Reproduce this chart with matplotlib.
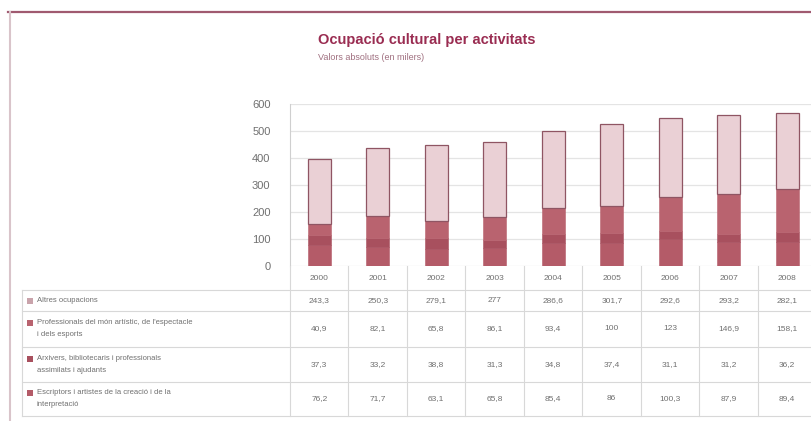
import matplotlib
matplotlib.use("Agg")
import matplotlib.pyplot as plt
from matplotlib.patches import Rectangle
from matplotlib.lines import Line2D

plt.rcParams["font.family"] = ["Liberation Sans Narrow", "Liberation Sans", "DejaVu Sans"]

# ----------------------------------------------------------------------
# Data (thousands of people)
# ----------------------------------------------------------------------
years = ["2000", "2001", "2002", "2003", "2004", "2005", "2006", "2007", "2008"]

altres = [243.3, 250.3, 279.1, 277.0, 286.6, 301.7, 292.6, 293.2, 282.1]
professionals = [40.9, 82.1, 65.8, 86.1, 93.4, 100.0, 123.0, 146.9, 158.1]
arxivers = [37.3, 33.2, 38.8, 31.3, 34.8, 37.4, 31.1, 31.2, 36.2]
escriptors = [76.2, 71.7, 63.1, 65.8, 85.4, 86.0, 100.3, 87.9, 89.4]

row_labels = [
    ["Altres ocupacions"],
    ["Professionals del món artístic, de l'espectacle", "i dels esports"],
    ["Arxivers, bibliotecaris i professionals", "assimilats i ajudants"],
    ["Escriptors i artistes de la creació i de la", "interpretació"],
]
series = [altres, professionals, arxivers, escriptors]
colors = ["#ead0d5", "#b9636f", "#a8505e", "#b45b68"]

title = "Ocupació cultural per activitats"
subtitle = "Valors absoluts (en milers)"

# ----------------------------------------------------------------------
# Layout (figure pixels)
# ----------------------------------------------------------------------
W, H = 812, 421
x0 = 290          # left of first column
col_w = 58.5
plot_top, plot_bot = 104, 266
tab_left = 22
row_edges = [266, 290, 311, 347, 382, 416]

TXT = "#707070"
LINE = "#d8d8d8"

fig = plt.figure(figsize=(W / 100, H / 100), dpi=100)

# bar chart axes
n = len(years)
ax = fig.add_axes([x0 / W, (H - plot_bot) / H, n * col_w / W, (plot_bot - plot_top) / H])
xs = list(range(n))
bottom = [0.0] * n
stack = [escriptors, arxivers, professionals, altres]
stack_cols = [colors[3], colors[2], colors[1], colors[0]]
for vals, c in zip(stack, stack_cols):
    edge = "#8f5563" if c == colors[0] else c
    ax.bar(xs, vals, bottom=bottom, width=0.39, color=c, edgecolor=edge,
           linewidth=0.9 if c == colors[0] else 0.4, zorder=3)
    bottom = [b + v for b, v in zip(bottom, vals)]
ax.set_xlim(-0.5, n - 0.5)
ax.set_ylim(0, 600)
ax.set_yticks(range(0, 601, 100))
ax.set_yticklabels([str(v) for v in range(0, 601, 100)], color=TXT, fontsize=8)
ax.set_xticks([])
ax.tick_params(axis="y", length=0, pad=14)
ax.grid(axis="y", color="#e4e4e4", linewidth=0.9, zorder=0)
for s in ["top", "right", "bottom"]:
    ax.spines[s].set_visible(False)
ax.spines["left"].set_color("#cfcfcf")
ax.set_facecolor("none")

# overlay in pixel coordinates for frame, titles and table
ov = fig.add_axes([0, 0, 1, 1])
ov.set_xlim(0, W)
ov.set_ylim(H, 0)
ov.axis("off")
ov.patch.set_alpha(0)

# frame
ov.add_line(Line2D([8, W], [12, 12], color="#a05a70", linewidth=1.6))
ov.add_line(Line2D([10, 10], [12, H], color="#d9c4ca", linewidth=1.5))

# titles
ov.text(318, 40, title, fontsize=10.5, fontweight="bold", color="#9a2d52", va="center")
ov.text(318, 57, subtitle, fontsize=6.5, color="#a07080", va="center")

# table grid
x_end = x0 + n * col_w
for y in row_edges[1:]:
    ov.add_line(Line2D([tab_left, x_end], [y, y], color=LINE, linewidth=0.8))
ov.add_line(Line2D([tab_left, tab_left], [row_edges[1], row_edges[-1]], color=LINE, linewidth=0.8))
for i in range(n + 1):
    xc = x0 + i * col_w
    ov.add_line(Line2D([xc, xc], [row_edges[0], row_edges[-1]], color=LINE, linewidth=0.8))

# year header
for i, yr in enumerate(years):
    ov.text(x0 + (i + 0.5) * col_w, (row_edges[0] + row_edges[1]) / 2, yr,
            fontsize=6, color=TXT, ha="center", va="center")

# table rows
for r, (labels, vals, c) in enumerate(zip(row_labels, series, colors)):
    top, bot = row_edges[r + 1], row_edges[r + 2]
    mid = (top + bot) / 2
    if len(labels) == 1:
        ys = [mid]
    else:
        ys = [mid - 6, mid + 6]
    sw_c = "#c9a3ab" if r == 0 else c
    ov.add_patch(Rectangle((27, ys[0] - 3), 6, 6, facecolor=sw_c, edgecolor="none"))
    for line, yy in zip(labels, ys):
        ov.text(37, yy, line, fontsize=5.5, color=TXT, va="center")
    for i, v in enumerate(vals):
        s = f"{v:.1f}".replace(".", ",")
        if s.endswith(",0"):
            s = s[:-2]
        ov.text(x0 + (i + 0.5) * col_w, mid, s, fontsize=6, color=TXT,
                ha="center", va="center")

fig.savefig("out.png", dpi=100)
